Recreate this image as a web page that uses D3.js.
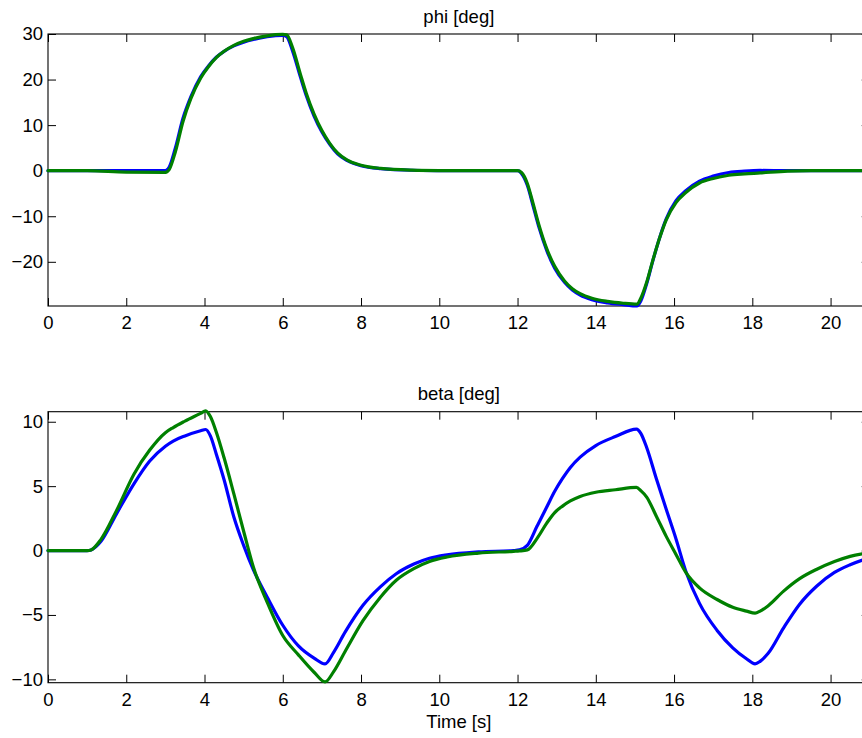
<!DOCTYPE html>
<html>
<head>
<meta charset="utf-8">
<script src="https://cdn.jsdelivr.net/npm/d3@7"></script>
<style>
  html, body { margin: 0; padding: 0; background: #fff; }
  svg { display: block; }
  text { font-family: "Liberation Sans", Arial, Helvetica, sans-serif; fill: #000; }
</style>
</head>
<body>
<svg id="chart" width="862" height="738"></svg>
<script>
// ---- roll angle phi [deg] ----
const phiTime = [0, 1, 2, 3.0, 3.1, 3.25, 3.45, 3.65, 3.9, 4.1, 4.3, 4.5, 4.75, 5.0, 5.25, 5.6, 6.0,
  6.1, 6.25, 6.45, 6.6, 6.8, 7.0, 7.2, 7.4, 7.65, 8.0, 8.5, 9.3, 10, 11, 12.0, 12.1, 12.25, 12.4,
  12.55, 12.75, 12.95, 13.2, 13.4, 13.6, 13.9, 14.3, 14.7, 15.05, 15.15, 15.3, 15.45, 15.65, 15.8,
  16.05, 16.3, 16.65, 17.0, 17.4, 17.8, 18.2, 18.9, 19.5, 21];
const phiBlue = [0, 0, 0, 0.0, 0.8, 4.8, 11.5, 16.2, 20.6, 23.0, 24.9, 26.2, 27.4, 28.2, 28.8, 29.4, 29.7,
  29.4, 26.3, 20.6, 16.5, 12.0, 8.5, 5.8, 3.7, 2.2, 1.1, 0.45, 0.1, 0.03, 0, 0, -0.6, -3.2, -7.8,
  -12.5, -17.6, -21.4, -24.5, -26.2, -27.3, -28.3, -29.0, -29.4, -29.7, -28.6, -24.8, -20.0, -14.2, -10.6,
  -6.6, -4.4, -2.3, -1.2, -0.4, -0.1, 0.05, 0, 0, 0];
const phiGreen = [0, 0, -0.3, -0.35, 0.3, 4.0, 10.8, 15.8, 20.3, 22.8, 24.8, 26.2, 27.5, 28.4, 29.0, 29.6, 29.9,
  29.8, 27.0, 21.2, 17.0, 12.4, 8.8, 6.0, 3.9, 2.3, 1.2, 0.5, 0.12, 0.03, 0, 0, -0.4, -2.8, -7.3,
  -12.0, -17.2, -21.0, -24.2, -25.9, -27.0, -28.0, -28.7, -29.1, -29.3, -28.0, -24.5, -19.9, -14.3, -10.8,
  -7.0, -4.8, -2.7, -1.7, -1.0, -0.7, -0.5, -0.1, 0, 0];

// ---- sideslip beta [deg] ----
const betaTime = [0, 0.5, 1.0, 1.1, 1.35, 1.75, 2.2, 2.6, 3.0, 3.2, 3.5, 3.9, 4.03, 4.15, 4.3, 4.5, 4.75,
  5.0, 5.25, 5.6, 6.0, 6.4, 6.8, 7.08, 7.3, 7.6, 8.05, 8.5, 8.9, 9.35, 9.75, 10.2, 11.0, 11.9, 12.05,
  12.25, 12.5, 12.75, 12.95, 13.15, 13.35, 13.6, 14.0, 14.5, 15.04, 15.15, 15.3, 15.55, 15.8, 16.05, 16.3, 16.65,
  17.1, 17.5, 17.85, 18.07, 18.2, 18.4, 18.8, 19.2, 19.65, 20.1, 20.5, 21];
const betaBlue = [0, 0, 0, 0.05, 0.7, 2.85, 5.2, 6.95, 8.1, 8.5, 8.9, 9.3, 9.4, 8.9, 7.5, 5.5, 2.6,
  0.4, -1.5, -3.6, -5.8, -7.4, -8.35, -8.8, -7.9, -6.3, -4.25, -2.8, -1.8, -1.05, -0.6, -0.33, -0.1, 0, 0.05,
  0.4, 1.9, 3.4, 4.6, 5.6, 6.45, 7.25, 8.15, 8.85, 9.43, 9.1, 8.0, 5.55, 3.2, 0.9, -1.6, -4.1,
  -6.2, -7.55, -8.4, -8.8, -8.6, -8.0, -6.0, -4.2, -2.75, -1.7, -1.1, -0.55];
const betaGreen = [0, 0, 0, 0.05, 0.85, 3.1, 5.95, 7.8, 9.15, 9.55, 10.05, 10.65, 10.85, 10.4, 9.2, 7.2, 4.4,
  1.5, -1.3, -4.0, -6.6, -8.1, -9.45, -10.2, -9.4, -7.8, -5.45, -3.6, -2.3, -1.4, -0.85, -0.5, -0.2, -0.06, -0.03,
  0.05, 0.95, 2.15, 2.95, 3.45, 3.85, 4.2, 4.53, 4.72, 4.9, 4.65, 4.15, 2.65, 1.1, -0.3, -1.7, -2.9,
  -3.8, -4.4, -4.7, -4.86, -4.7, -4.3, -3.15, -2.2, -1.45, -0.85, -0.45, -0.15];

// ---- ticks ----
const timeTicks = [0, 2, 4, 6, 8, 10, 12, 14, 16, 18, 20];
const phiTicks = [-20, -10, 0, 10, 20, 30];
const betaTicks = [-10, -5, 0, 5, 10];

const svg = d3.select("#chart");
const left = 48, right = 869.7;
const fontSize = 18.5;

const x = d3.scaleLinear().domain([0, 21]).range([left, right]);

function panel(cfg) {
  const y = d3.scaleLinear().domain(cfg.yDomain).range([cfg.bottom, cfg.top]);
  const g = svg.append("g");

  // box
  g.append("rect")
    .attr("x", left).attr("y", cfg.top)
    .attr("width", right - left).attr("height", cfg.bottom - cfg.top)
    .attr("fill", "none").attr("stroke", "#000").attr("stroke-width", 1.1);

  const styleAxis = sel => {
    sel.select(".domain").remove();
    sel.selectAll("line").attr("stroke", "#000").attr("stroke-width", 1);
    sel.selectAll("text").style("font-size", fontSize + "px")
      .style("font-family", '"Liberation Sans", Arial, sans-serif').attr("fill", "#000");
  };

  g.append("g").attr("transform", `translate(0,${cfg.bottom})`)
    .call(d3.axisBottom(x).tickValues(timeTicks).tickFormat(d3.format("d"))
      .tickSize(-8).tickPadding(10))
    .call(styleAxis);
  g.append("g").attr("transform", `translate(0,${cfg.top})`)
    .call(d3.axisTop(x).tickValues(timeTicks).tickFormat("").tickSize(-8))
    .call(styleAxis);
  g.append("g").attr("transform", `translate(${left},0)`)
    .call(d3.axisLeft(y).tickValues(cfg.ticks).tickFormat(d3.format("d"))
      .tickSize(-8).tickPadding(5))
    .call(styleAxis);
  g.append("g").attr("transform", `translate(${right},0)`)
    .call(d3.axisRight(y).tickValues(cfg.ticks).tickFormat("").tickSize(-8))
    .call(styleAxis);

  const line = d3.line()
    .x((d, i) => x(cfg.time[i]))
    .y(d => y(d))
    .curve(d3.curveMonotoneX);

  cfg.series.forEach(s => {
    g.append("path")
      .datum(s.values)
      .attr("d", line)
      .attr("fill", "none")
      .attr("stroke", s.color)
      .attr("stroke-width", 3.2)
      .attr("stroke-linejoin", "round")
      .attr("stroke-linecap", "round");
  });

  g.append("text")
    .attr("x", (left + right) / 2)
    .attr("y", cfg.top - 11.5)
    .attr("text-anchor", "middle")
    .style("font-size", fontSize + "px")
    .text(cfg.title);
}

panel({
  top: 34, bottom: 306, yDomain: [-29.7, 30], ticks: phiTicks,
  time: phiTime, title: "phi [deg]",
  series: [{ values: phiBlue, color: "#0000ff" }, { values: phiGreen, color: "#008000" }]
});

panel({
  top: 411.7, bottom: 682.7, yDomain: [-10.26, 10.78], ticks: betaTicks,
  time: betaTime, title: "beta [deg]",
  series: [{ values: betaBlue, color: "#0000ff" }, { values: betaGreen, color: "#008000" }]
});

svg.append("text")
  .attr("x", (left + right) / 2)
  .attr("y", 727.7)
  .attr("text-anchor", "middle")
  .style("font-size", fontSize + "px")
  .text("Time [s]");
</script>
</body>
</html>
